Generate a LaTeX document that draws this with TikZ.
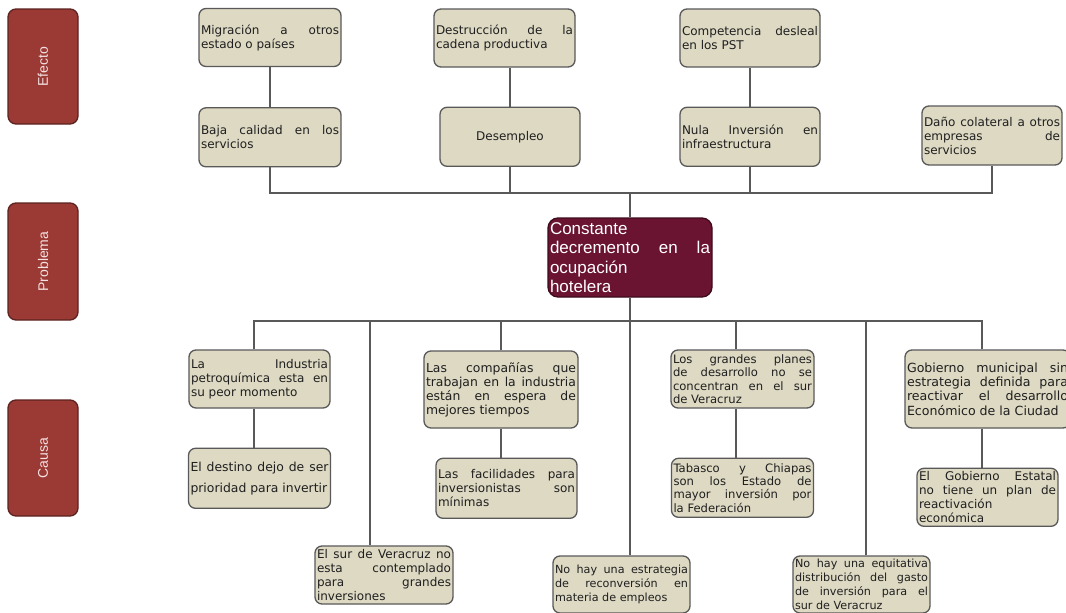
\documentclass[tikz,border=0pt]{standalone}
\usepackage{fontspec}
\usepackage{xcolor,tikz}
\usetikzlibrary{positioning}
\newfontfamily\boxfont{DejaVu Sans}
\newfontfamily\headfont{Liberation Sans}
\definecolor{tanfill}{HTML}{DDD9C3}
\definecolor{edgegray}{HTML}{595959}
\definecolor{tagred}{HTML}{9B3A35}
\definecolor{tagedge}{HTML}{5C2321}
\definecolor{tagtext}{HTML}{F4E2E2}
\definecolor{probfill}{HTML}{6A1431}
\definecolor{probedge}{HTML}{3E0A1C}

\begin{document}
\begin{tikzpicture}[x=1pt,y=-1pt,
  box/.style={draw=edgegray,line width=1.3pt,fill=tanfill,rounded corners=7pt,align=justify,text width=136pt,inner xsep=2pt,inner ysep=1pt,minimum height=58pt,text=black!88,font=\boxfont\fontsize{12pt}{14pt}\selectfont},
  smallbox/.style={box,font=\boxfont\fontsize{11.2pt}{14pt}\selectfont},
  tag/.style={draw=tagedge,line width=1.3pt,fill=tagred,rounded corners=8pt,rotate=90,minimum width=115pt,minimum height=70pt,text=tagtext,font=\headfont\fontsize{14pt}{16pt}\selectfont},
  link/.style={draw=edgegray,line width=1.7pt}]
\path[fill=white,use as bounding box] (0,0) rectangle (1066,613);

% niveles
\node[tag] (efecto) at (43,66.5) {Efecto};
\node[tag,minimum width=117pt] (problema) at (43,261.5) {Problema};
\node[tag,minimum width=116pt] (causa) at (43,458) {Causa};

% efectos
\node[box,text width=138pt] (mig) at (270,37.5) {Migración a otros\linebreak estado o países};
\node[box,text width=138pt,minimum height=59pt,below=40pt of mig] (baja) {Baja calidad en los\linebreak servicios};
\node[box,text width=137pt] (destr) at (504.5,38) {Destrucción de la\linebreak cadena productiva};
\node[box,align=center,minimum height=59pt,below=39pt of destr,xshift=5.5pt] (desem) {Desempleo};
\node[box] (comp) at (750,38) {Competencia desleal\linebreak en los PST};
\node[box,minimum height=59pt,below=39pt of comp] (nula) {Nula Inversión en\linebreak infraestructura};
\node[box,minimum height=59pt] (dano) at (992,135.5) {Daño colateral a otros\linebreak empresas de\linebreak servicios};

% problema
\node[draw=probedge,line width=1.3pt,fill=probfill,rounded corners=10pt,align=justify,text width=160pt,inner xsep=2pt,minimum height=79pt,text=white,font=\headfont\fontsize{17pt}{19.3pt}\selectfont] (prob) at (630,257.5) {Constante\linebreak decremento en la\linebreak ocupación\linebreak hotelera};

% causas
\node[box,text width=137pt] (ind) at (259.5,379) {La Industria\linebreak petroquímica esta en\linebreak su peor momento};
\node[box,text width=138pt,minimum height=60pt,below=39pt of ind,font=\boxfont\fontsize{12.4pt}{21pt}\selectfont] (dest) {El destino dejo de ser\linebreak prioridad para invertir};
\node[box,text width=134pt] (surv) at (384,575) {El sur de Veracruz no\linebreak esta contemplado\linebreak para grandes\linebreak inversiones};
\node[box,text width=150pt,minimum height=77pt,font=\boxfont\fontsize{12.4pt}{14pt}\selectfont] (comp2) at (501,389.5) {Las compañías que\linebreak trabajan en la industria\linebreak están en espera de\linebreak mejores tiempos};
\node[box,text width=137pt,minimum height=60pt,below=29pt of comp2,xshift=5.5pt] (facil) {Las facilidades para\linebreak inversionistas son\linebreak mínimas};
\node[smallbox,text width=133pt,minimum height=57pt] (estr) at (621.5,584.5) {No hay una estrategia\linebreak de reconversión en\linebreak materia de empleos};
\node[box,text width=139pt,font=\boxfont\fontsize{11.6pt}{13.4pt}\selectfont] (planes) at (742.5,379) {Los grandes planes\linebreak de desarrollo no se\linebreak concentran en el sur\linebreak de Veracruz};
\node[box,text width=138pt,minimum height=59pt,below=49pt of planes,font=\boxfont\fontsize{11.6pt}{13.4pt}\selectfont] (tab) {Tabasco y Chiapas\linebreak son los Estado de\linebreak mayor inversión por\linebreak la Federación};
\node[smallbox,text width=133pt,minimum height=57pt] (equit) at (861.5,584.5) {No hay una equitativa\linebreak distribución del gasto\linebreak de inversión para el\linebreak sur de Veracruz};
\node[box,text width=161pt,minimum height=78pt,font=\boxfont\fontsize{12.6pt}{14.3pt}\selectfont] (gobm) at (987.5,389) {Gobierno municipal sin\linebreak estrategia definida para\linebreak reactivar el desarrollo\linebreak Económico de la Ciudad};
\node[box,text width=137pt,below=39pt of gobm] (gobe) {El Gobierno Estatal\linebreak no tiene un plan de\linebreak reactivación\linebreak económica};

% conectores
\coordinate (ebus) at (630,193);
\coordinate (cbus) at (630,321);
\draw[link] (mig) -- (baja);
\draw[link] (desem.north) -- (desem.north |- destr.south);
\draw[link] (comp) -- (nula);
\foreach \n in {baja,desem,nula,dano}
  \draw[link] (\n.south) |- (ebus);
\draw[link] (ebus) -- (prob.north);
\draw[link] (prob.south) -- (prob.south |- estr.north);
\foreach \n/\s in {ind/-5.5,planes/-6.5,gobm/-5.5}
  \draw[link] ([xshift=\s pt]\n.north) |- (cbus);
\draw[link] (comp2.north) |- (cbus);
\draw[link] ([xshift=-14pt]surv.north) |- (cbus);
\draw[link] ([xshift=4.5pt]equit.north) |- (cbus);
\draw[link] ([xshift=-5.5pt]ind.south) -- ([xshift=-5.5pt]ind.south |- dest.north);
\draw[link] (comp2.south) -- (comp2.south |- facil.north);
\draw[link] ([xshift=-6.5pt]planes.south) -- ([xshift=-6.5pt]planes.south |- tab.north);
\draw[link] ([xshift=-5.5pt]gobm.south) -- ([xshift=-5.5pt]gobm.south |- gobe.north);
\end{tikzpicture}
\end{document}
